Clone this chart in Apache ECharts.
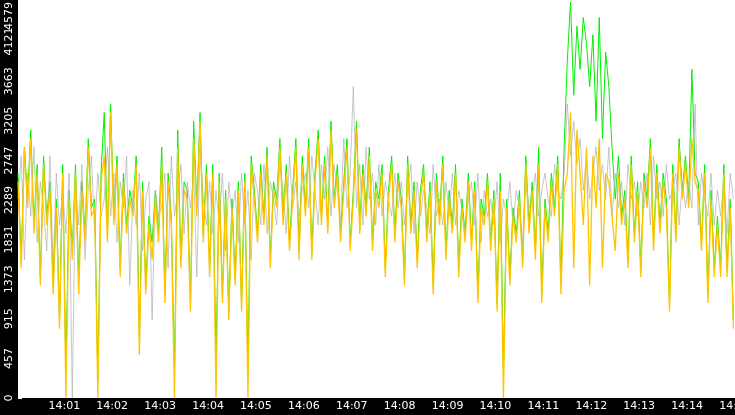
<!DOCTYPE html>
<html>
<head>
<meta charset="utf-8">
<script src="https://cdn.jsdelivr.net/npm/echarts@6/dist/echarts.min.js"></script>
<style>html,body{margin:0;padding:0;background:#fff}#chart{width:735px;height:415px}</style>
</head>
<body>
<div id="chart"></div>
<script>
// one sample every 4 s starting 14:00:02
const startTime = '2024-01-01T14:00:02';
const stepMs = 4000;
const yTicks = [0, 457, 915, 1373, 1831, 2289, 2747, 3205, 3663, 4121, 4579];

const yellowValues = [
  2500,1500,2900,2200,3000,1900,2600,1300,2700,2000,2400,1200,2200,800,2600,
  0,2300,1600,2600,1200,2400,1800,2900,2100,2200,0,2500,2800,1800,3300,
  2000,2700,1400,2500,1900,2300,2100,2700,500,2400,1200,2000,1600,2300,1800,
  2700,1100,2500,2000,0,2900,1500,2400,2300,1000,3000,2100,3200,1800,2600,
  1400,2600,0,2500,1100,2300,900,2200,1300,2400,1000,2500,0,2700,2300,
  1800,2600,2000,2800,1500,2400,2200,2900,2000,2600,1700,2300,2900,1600,2700,
  2100,2900,1600,2500,3000,2000,2700,1900,3100,2200,2600,1800,2400,2900,1700,
  2300,3100,1900,2600,2100,2800,1700,2400,2200,2600,1400,2300,2700,1800,2500,
  2200,1300,2700,1900,2400,1500,2300,2600,1800,2400,1200,2500,2000,2700,1600,
  2300,1900,2600,1400,2200,1800,2500,1700,2400,1100,2200,2000,2500,1700,2300,
  1000,2400,0,2200,1300,2100,1800,2300,1500,2700,1900,2400,1600,2700,1100,
  2200,1800,2500,2100,2700,1200,2400,2600,3300,1500,3100,2600,2000,2900,1300,
  2800,2200,3000,1500,2600,2500,2100,1700,2600,2000,2300,1500,2700,1800,2400,
  1400,2500,2200,2900,1700,2600,1900,2500,2200,1000,2600,1800,2900,2300,2700,
  2200,3000,2500,2400,1700,2600,1100,2300,1400,2000,1400,2600,1400,2200,800
];
const greenValues = [
  2600,1600,2900,2300,3100,2000,2700,1400,2800,2100,2500,1300,2300,900,2700,
  300,2400,1700,2700,1400,2500,1900,3000,2200,2300,200,2600,3300,1900,3400,
  2100,2800,1500,2600,2000,2400,2200,2800,700,2500,1300,2100,1800,2400,1900,
  2900,1200,2600,2100,300,3100,1600,2500,2400,1100,3200,2200,3300,1900,2700,
  1500,2700,400,2600,1200,2400,1000,2300,1400,2500,1100,2600,300,2800,2400,
  1900,2700,2100,2900,1600,2500,2300,3000,2100,2700,1800,2400,3000,1700,2800,
  2200,3000,1700,2600,3100,2100,2800,2000,3200,2300,2700,1900,2500,3000,1800,
  2400,3200,2000,2700,2200,2900,1800,2500,2300,2700,1500,2400,2800,1900,2600,
  2300,1400,2800,2000,2500,1600,2400,2700,1900,2500,1300,2600,2100,2800,1700,
  2400,2000,2700,1500,2300,1900,2600,1800,2500,1200,2300,2100,2600,1800,2400,
  1100,2600,300,2300,1400,2200,1900,2400,1600,2800,2000,2500,1700,2900,1200,
  2300,1900,2600,2200,2800,1300,2900,3900,4579,3500,4300,3800,4400,4100,3600,
  4200,3200,4400,3000,4000,3600,2900,2300,2800,2100,2400,1600,2800,1900,2500,
  1500,2600,2300,3000,1800,2700,2000,2600,2300,1100,2700,1900,3000,2400,2800,
  2300,3800,2600,2500,1800,2700,1200,2400,1500,2100,1500,2700,1500,2300,900
];
const grayValues = [
  2300,2800,1600,2600,2100,2900,1800,2500,2200,1700,2800,1500,2600,2000,2400,
  1900,2600,0,2500,2000,2700,1600,2400,2800,1900,2600,2100,2300,2900,2100,
  2600,1800,2500,2200,2800,1300,2400,2000,2600,1700,2300,2500,900,2400,2100,
  2200,2600,1500,2800,2100,2400,2700,1900,2500,2200,2600,1400,2900,2300,2000,
  2500,1900,2400,2000,2600,1700,2500,2100,2400,1800,2600,2000,2400,1600,2600,
  2400,2000,2700,1900,2500,2300,2000,2700,2400,1900,2800,2200,2500,2100,2400,
  2600,2200,2800,2400,2000,2700,2300,2900,2100,2700,2400,2000,3000,2200,2600,
  3600,2200,2700,2000,2900,2300,2600,2000,2700,2100,2500,2300,2100,2600,2200,
  2500,2000,2400,2700,1900,2500,2100,2400,2200,1900,2700,2100,2300,2000,2500,
  2100,2600,2000,2400,2200,1900,2300,2500,2000,2600,1800,2400,2100,2300,2000,
  2500,1800,2300,2100,2500,2000,2400,2200,1800,2500,2200,2300,2600,2100,2400,
  2600,2300,2100,2700,2400,2300,2600,3400,2800,3200,2700,3000,2400,2800,2300,
  2600,2900,2400,2700,2300,2900,2100,2600,2200,2500,2000,2700,2300,2500,2100,
  2500,2200,2600,2000,2800,2300,2500,2100,2700,2300,2400,2600,2000,2500,2200,
  2500,2200,3400,2000,2600,2300,2100,2600,2000,2400,2100,2500,1900,2600,2300
];

function toPairs(values) {
  const t0 = new Date(startTime).getTime();
  return values.map((v, i) => [t0 + i * stepMs, v]);
}

var chartDom = document.getElementById('chart');
var myChart = echarts.init(chartDom);
const t0 = new Date(startTime).getTime();
const tEnd = new Date('2024-01-01T14:15:00').getTime();

var option = {
  animation: false,
  backgroundColor: '#fff',
  graphic: [
    { type: 'rect', left: 0, top: 0, shape: { width: 18, height: 415 }, style: { fill: '#000' }, z: -1 },
    { type: 'rect', left: 0, top: 398, shape: { width: 735, height: 17 }, style: { fill: '#000' }, z: -1 },
    // top tick label drawn separately so it sits below the edge
    { type: 'text', x: 9, y: 2, rotation: Math.PI / 2, z: 10,
      style: { text: String(yTicks[yTicks.length - 1]), fill: '#fff', font: '11px "DejaVu Sans"', align: 'right', verticalAlign: 'middle' } }
  ],
  grid: { left: 18, right: 0, top: 2, bottom: 17, outerBoundsMode: 'none' },
  xAxis: {
    type: 'time',
    min: t0,
    max: tEnd,
    interval: 60000,
    splitNumber: 15,
    axisLine: { show: false },
    axisTick: { show: true, lineStyle: { color: '#fff' }, length: 4, inside: true },
    splitLine: { show: false },
    axisLabel: {
      color: '#fff', fontFamily: 'DejaVu Sans', fontSize: 11, margin: 3, showMaxLabel: true,
      formatter: v => echarts.time.format(v, '{HH}:{mm}', false)
    }
  },
  yAxis: {
    type: 'value',
    min: 0,
    max: 4579,
    interval: 457.9,
    axisLine: { show: false },
    axisTick: { show: true, lineStyle: { color: '#fff' }, length: 4, inside: true },
    splitLine: { show: false },
    axisLabel: {
      color: '#fff', fontFamily: 'DejaVu Sans', fontSize: 11, rotate: 90, margin: 3,
      showMaxLabel: false,
      formatter: (v, i) => (i < yTicks.length - 1 && yTicks[i] !== undefined) ? yTicks[i] : ''
    }
  },
  series: [
    { type: 'line', data: toPairs(greenValues), showSymbol: false, lineStyle: { color: '#00f000', width: 1 } },
    { type: 'line', data: toPairs(grayValues), showSymbol: false, lineStyle: { color: '#b0b0b0', width: 0.7 } },
    { type: 'line', data: toPairs(yellowValues), showSymbol: false, lineStyle: { color: '#ffc400', width: 1.3 } }
  ]
};

myChart.setOption(option);
window.addEventListener('resize', () => myChart.resize());
</script>
</body>
</html>
